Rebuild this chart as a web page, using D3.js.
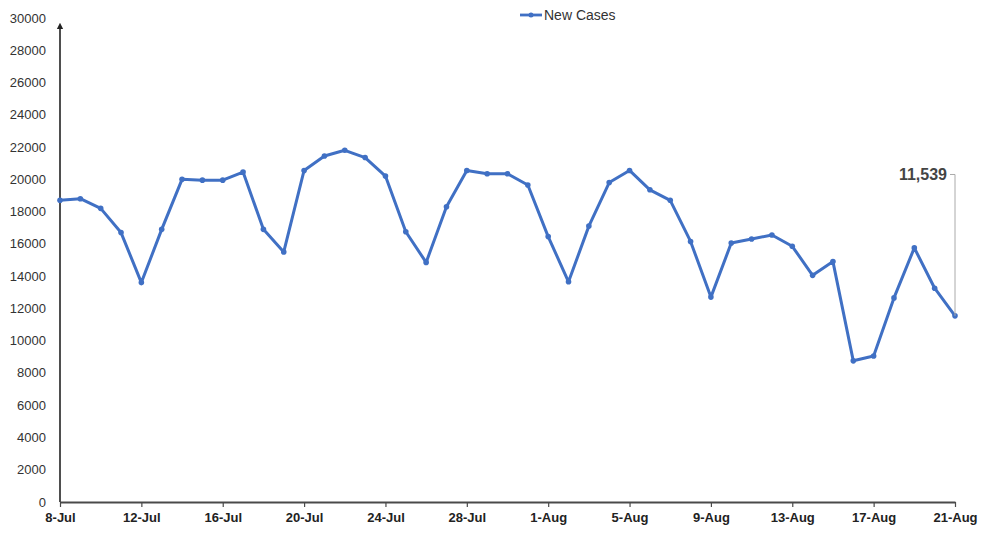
<!DOCTYPE html>
<html>
<head>
<meta charset="utf-8">
<script src="https://cdn.jsdelivr.net/npm/d3@7"></script>
<style>
  body { margin: 0; background: #fff; }
  svg { display: block; }
  .ylab { font-family: "Liberation Sans", Arial, sans-serif; font-size: 13px; fill: #333; }
  .xlab { font-family: "Liberation Sans", Arial, sans-serif; font-size: 13px; font-weight: bold; fill: #222; }
</style>
</head>
<body>
<svg id="chart"></svg>
<script>
'use strict';

// data (daily new cases, 8 Jul - 21 Aug)
var startDate = '2020-07-08';
var newCases = [
  18700, 18800, 18200, 16700, 13600, 16900, 20000, 19950, 19950, 20450,
  16900, 15500, 20550, 21450, 21800, 21350, 20200, 16750, 14850, 18300,
  20550, 20350, 20350, 19650, 16450, 13650, 17100, 19800, 20550, 19350,
  18700, 16150, 12700, 16050, 16300, 16550, 15850, 14050, 14900, 8750,
  9050, 12650, 15750, 13250, 11539
];
var yTicks = [0, 2000, 4000, 6000, 8000, 10000, 12000, 14000, 16000, 18000, 20000, 22000, 24000, 26000, 28000, 30000];
var xTickLabels = ['8-Jul', '12-Jul', '16-Jul', '20-Jul', '24-Jul', '28-Jul', '1-Aug', '5-Aug', '9-Aug', '13-Aug', '17-Aug', '21-Aug'];
var seriesName = 'New Cases';
var calloutText = '11,539';

// chart size
var W = 982, H = 538;
var margin = { top: 18, right: 27, bottom: 36, left: 60 };
var width  = W - margin.left - margin.right;
var height = H - margin.top - margin.bottom;

var lineColor = '#4070c4';
var axisColor = '#4a4a4a';

var svg = d3.select('#chart').attr('width', W).attr('height', H);
var g = svg.append('g').attr('transform', 'translate(' + margin.left + ',' + margin.top + ')');

var t0 = d3.utcParse('%Y-%m-%d')(startDate);
var data = newCases.map(function(v, i){ return { date: d3.utcDay.offset(t0, i), value: v }; });

var x = d3.scaleUtc().domain([data[0].date, data[data.length - 1].date]).range([0, width]);
var y = d3.scaleLinear().domain([0, 30000]).range([height, 0]);

// y labels (no tick marks)
g.selectAll('.ylab').data(yTicks).enter().append('text')
  .attr('class', 'ylab')
  .attr('x', -14)
  .attr('y', function(d){ return y(d); })
  .attr('dy', '0.35em')
  .attr('text-anchor', 'end')
  .text(function(d){ return d; });

// y axis line with arrow
svg.append('defs').append('marker')
  .attr('id', 'arrow').attr('viewBox', '0 0 10 10')
  .attr('refX', 5).attr('refY', 5)
  .attr('markerWidth', 4).attr('markerHeight', 5)
  .attr('orient', 'auto')
  .append('path').attr('d', 'M0,0L10,5L0,10z').attr('fill', '#222');

g.append('line')
  .attr('x1', 0).attr('x2', 0)
  .attr('y1', height).attr('y2', 8)
  .attr('stroke', '#222').attr('stroke-width', 1.6)
  .attr('marker-end', 'url(#arrow)');

// x axis
var xTickDates = xTickLabels.map(function(d, i){ return d3.utcDay.offset(t0, i * 4); });
var xAxis = g.append('g')
  .attr('transform', 'translate(0,' + height + ')')
  .call(d3.axisBottom(x).tickValues(xTickDates).tickSize(5).tickSizeOuter(0)
    .tickFormat(function(d, i){ return xTickLabels[i]; }));
xAxis.select('.domain').attr('stroke', axisColor).attr('stroke-width', 1.8);
xAxis.selectAll('.tick line').attr('stroke', axisColor).attr('stroke-width', 1.2);
xAxis.selectAll('.tick text').attr('class', 'xlab').attr('y', 11).attr('dy', '0.71em');

// line + markers
var line = d3.line()
  .x(function(d){ return x(d.date); })
  .y(function(d){ return y(d.value); });

g.append('path').datum(data)
  .attr('fill', 'none')
  .attr('stroke', lineColor)
  .attr('stroke-width', 3)
  .attr('stroke-linejoin', 'round')
  .attr('d', line);

g.selectAll('.dot').data(data).enter().append('circle')
  .attr('cx', function(d){ return x(d.date); })
  .attr('cy', function(d){ return y(d.value); })
  .attr('r', 2.8)
  .attr('fill', lineColor);

// callout on last point
var last = data[data.length - 1];
var lx = x(last.date), ly = y(last.value);
var ty = y(20300);
g.append('path')
  .attr('d', 'M' + (lx - 5) + ',' + ty + 'H' + lx + 'V' + ly)
  .attr('fill', 'none').attr('stroke', '#aaa').attr('stroke-width', 1);
g.append('text')
  .attr('x', lx - 8).attr('y', ty).attr('dy', '0.35em')
  .attr('text-anchor', 'end')
  .style('font-family', '"Liberation Sans", Arial, sans-serif')
  .style('font-size', '16px').style('font-weight', 'bold').style('fill', '#444')
  .text(calloutText);

// legend
var lg = svg.append('g').attr('transform', 'translate(520,15)');
lg.append('line').attr('x1', 0).attr('x2', 22).attr('y1', 0).attr('y2', 0)
  .attr('stroke', lineColor).attr('stroke-width', 2.8);
lg.append('circle').attr('cx', 11).attr('cy', 0).attr('r', 2.5).attr('fill', lineColor);
lg.append('text').attr('x', 24).attr('y', 0).attr('dy', '0.35em')
  .style('font-family', '"Liberation Sans", Arial, sans-serif')
  .style('font-size', '14px').style('fill', '#333')
  .text(seriesName);
</script>
</body>
</html>
